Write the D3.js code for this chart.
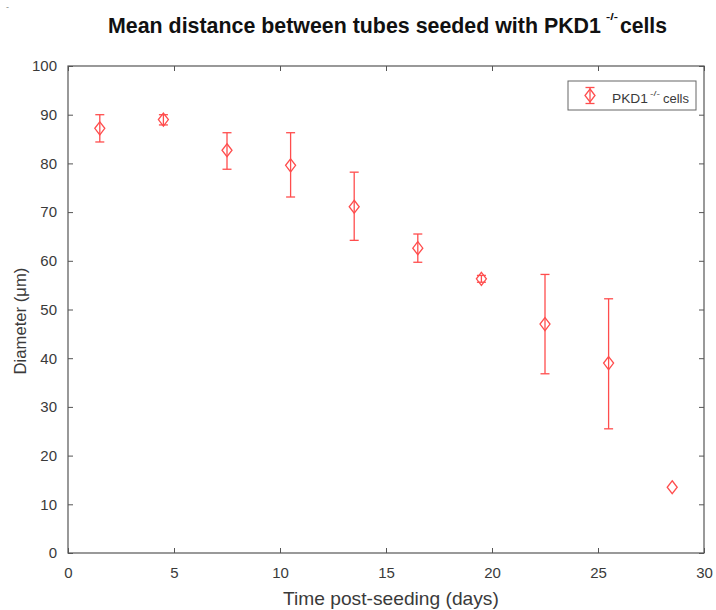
<!DOCTYPE html>
<html><head><meta charset="utf-8">
<script src="https://cdn.jsdelivr.net/npm/d3@7"></script>
<style>body{margin:0;background:#fff;} svg{display:block;}</style>
</head><body>
<script>
const days  = [1.5, 4.5, 7.5, 10.5, 13.5, 16.5, 19.5, 22.5, 25.5, 28.5];
const means = [87.2, 89.0, 82.7, 79.6, 71.1, 62.6, 56.3, 47.0, 39.0, 13.5];
const lower = [84.4, 87.9, 78.8, 73.1, 64.2, 59.7, 55.6, 36.8, 25.5, 13.5];
const upper = [90.0, 90.0, 86.3, 86.3, 78.2, 65.5, 57.0, 57.2, 52.2, 13.5];
const xTicks = [0, 5, 10, 15, 20, 25, 30];
const yTicks = [0, 10, 20, 30, 40, 50, 60, 70, 80, 90, 100];

const W = 716, H = 610;
const m = {l: 68, r: 12, t: 66, b: 57};
const svg = d3.select("body").append("svg").attr("width", W).attr("height", H);
const x = d3.scaleLinear().domain([0, 30]).range([m.l, W - m.r]);
const y = d3.scaleLinear().domain([0, 100]).range([H - m.b, m.t]);
const axisCol = "#555", textCol = "#3a3a3a", red = "#ff4d4d";
const font = "'Liberation Sans', Arial, sans-serif";

// box
svg.append("rect").attr("x", x(0)).attr("y", y(100)).attr("width", x(30) - x(0)).attr("height", y(0) - y(100))
  .attr("fill", "none").attr("stroke", axisCol).attr("stroke-width", 1.2);

const tl = 5;
const bx = svg.append("g").attr("transform", `translate(0,${y(0)})`)
  .call(d3.axisBottom(x).tickValues(xTicks).tickSize(-tl).tickPadding(14));
const tx = svg.append("g").attr("transform", `translate(0,${y(100)})`)
  .call(d3.axisTop(x).tickValues(xTicks).tickSize(-tl).tickFormat(""));
const ly = svg.append("g").attr("transform", `translate(${x(0)},0)`)
  .call(d3.axisLeft(y).tickValues(yTicks).tickSize(-tl).tickPadding(11));
const ry = svg.append("g").attr("transform", `translate(${x(30)},0)`)
  .call(d3.axisRight(y).tickValues(yTicks).tickSize(-tl).tickFormat(""));
[bx, tx, ly, ry].forEach(g => {
  g.select(".domain").remove();
  g.selectAll(".tick line").attr("stroke", axisCol);
  g.selectAll(".tick text").attr("fill", textCol).attr("font-family", font).attr("font-size", 15);
});

// error bars
const cap = 4.5;
const eg = svg.append("g").attr("stroke", red).attr("stroke-width", 1.3).attr("fill", "none");
days.forEach((d, i) => {
  if (upper[i] - lower[i] > 0.2) {
    eg.append("line").attr("x1", x(d)).attr("x2", x(d)).attr("y1", y(lower[i])).attr("y2", y(upper[i]));
    eg.append("line").attr("x1", x(d) - cap).attr("x2", x(d) + cap).attr("y1", y(lower[i])).attr("y2", y(lower[i]));
    eg.append("line").attr("x1", x(d) - cap).attr("x2", x(d) + cap).attr("y1", y(upper[i])).attr("y2", y(upper[i]));
  }
  const cx = x(d), cy = y(means[i]);
  eg.append("path").attr("d", `M${cx},${cy - 6.5}L${cx + 5},${cy}L${cx},${cy + 6.5}L${cx - 5},${cy}Z`);
});

// text placed at (px, py), horizontally scaled to a target width
function txt(px, py, s, size, len, opts = {}) {
  const e = svg.append("text").attr("x", 0).attr("y", 0).attr("font-family", font)
    .attr("font-size", size).attr("fill", opts.fill || textCol).text(s);
  if (opts.bold) e.attr("font-weight", "bold");
  const nat = e.node().getComputedTextLength();
  const sx = len ? len / nat : 1;
  const rot = opts.rotate ? ` rotate(${opts.rotate})` : "";
  if (opts.rotate) e.attr("x", -nat / 2);
  e.attr("transform", `translate(${px},${py})${rot} scale(${sx},1)`);
  if (opts.rotate) e.attr("transform", `translate(${px},${py})${rot} scale(${sx},1)`);
  return e;
}
// title (three pieces)
txt(108, 33, "Mean distance between tubes seeded with PKD1", 22, 493, {bold: true, fill: "#111"});
txt(606, 20, "-/-", 9, 12, {bold: true, fill: "#111"});
txt(620, 33, "cells", 22, 47, {bold: true, fill: "#111"});

// axis labels
txt(283, 605, "Time post-seeding (days)", 17.5, 216);
txt(26, 321, "Diameter (μm)", 17, 107, {rotate: -90});

// legend
svg.append("rect").attr("x", 568).attr("y", 81).attr("width", 128).attr("height", 29)
  .attr("fill", "#fff").attr("stroke", "#666").attr("stroke-width", 1);
const lx = 590, lyc = 95.5;
const lg = svg.append("g").attr("stroke", red).attr("stroke-width", 1.3).attr("fill", "none");
lg.append("line").attr("x1", lx).attr("x2", lx).attr("y1", lyc - 8).attr("y2", lyc + 8);
lg.append("line").attr("x1", lx - cap).attr("x2", lx + cap).attr("y1", lyc - 8).attr("y2", lyc - 8);
lg.append("line").attr("x1", lx - cap).attr("x2", lx + cap).attr("y1", lyc + 8).attr("y2", lyc + 8);
lg.append("path").attr("d", `M${lx},${lyc - 6.5}L${lx + 5},${lyc}L${lx},${lyc + 6.5}L${lx - 5},${lyc}Z`);
txt(612, 103, "PKD1", 13.5, 36);
txt(650, 96, "-/-", 8, 10);
txt(663, 103, "cells", 13.5, 26);

svg.append("text").attr("x", 6).attr("y", 10).attr("font-family", font).attr("font-size", 9).attr("fill", "#888").text("-");
</script>
</body></html>
